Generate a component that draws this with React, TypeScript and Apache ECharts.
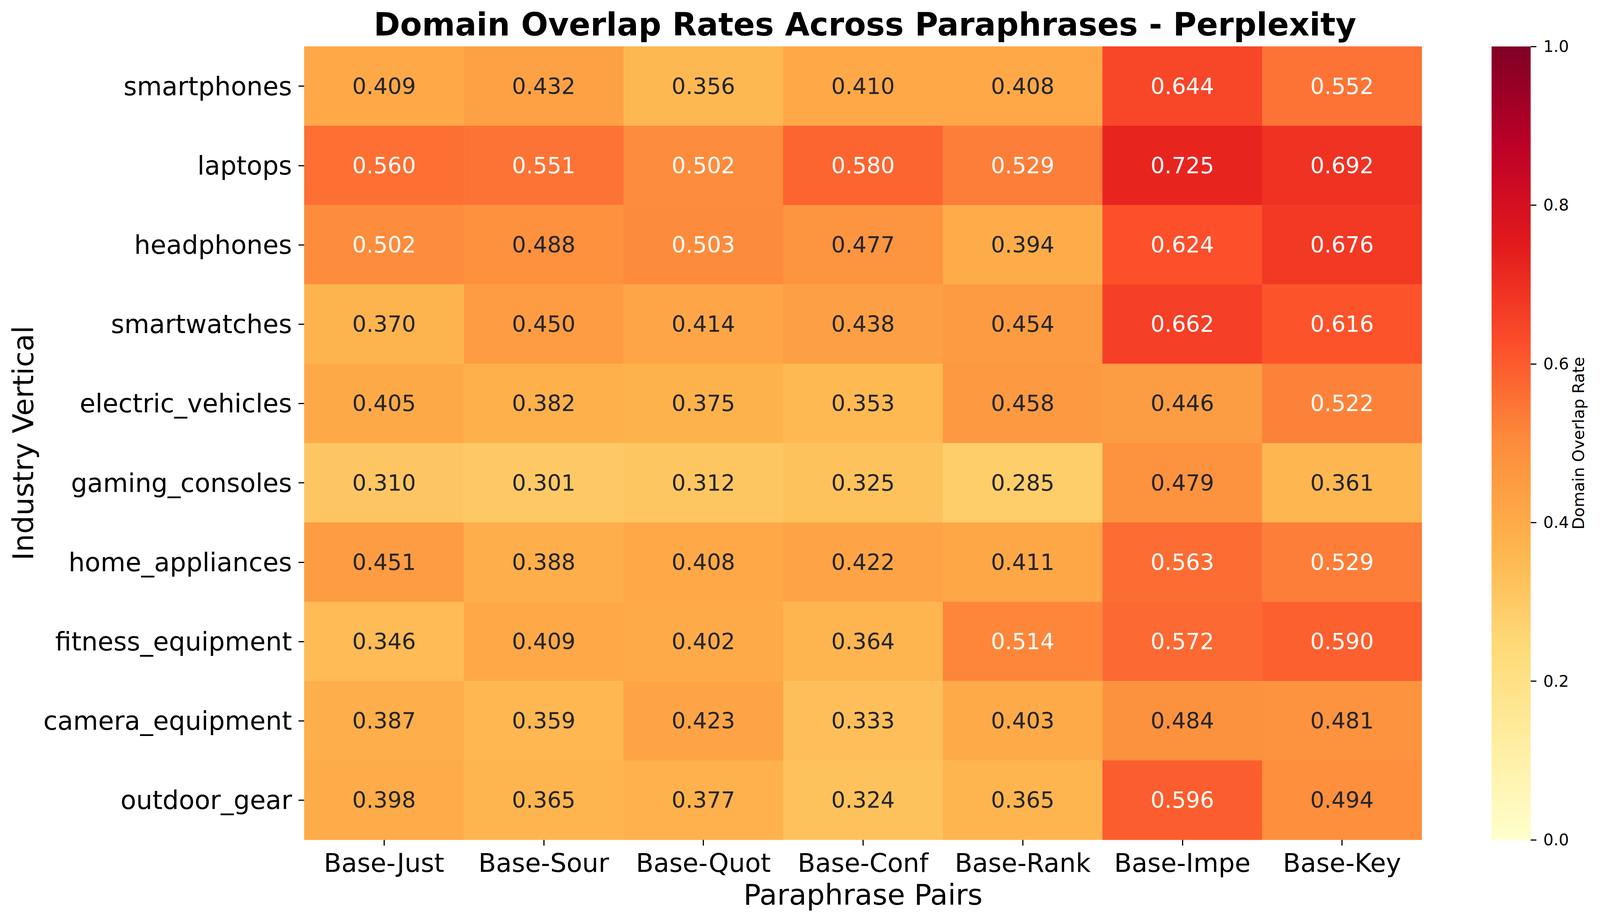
import React, { useEffect, useRef } from "react";
import * as echarts from "echarts";

const TITLE = "Domain Overlap Rates Across Paraphrases - Perplexity";
const X_NAME = "Paraphrase Pairs";
const Y_NAME = "Industry Vertical";
const CBAR_NAME = "Domain Overlap Rate";

const pairs = ["Base-Just", "Base-Sour", "Base-Quot", "Base-Conf", "Base-Rank", "Base-Impe", "Base-Key"];
const verticals = [
  "smartphones",
  "laptops",
  "headphones",
  "smartwatches",
  "electric_vehicles",
  "gaming_consoles",
  "home_appliances",
  "fitness_equipment",
  "camera_equipment",
  "outdoor_gear",
];

const smartphones = [0.409, 0.432, 0.356, 0.41, 0.408, 0.644, 0.552];
const laptops = [0.56, 0.551, 0.502, 0.58, 0.529, 0.725, 0.692];
const headphones = [0.502, 0.488, 0.503, 0.477, 0.394, 0.624, 0.676];
const smartwatches = [0.37, 0.45, 0.414, 0.438, 0.454, 0.662, 0.616];
const electricVehicles = [0.405, 0.382, 0.375, 0.353, 0.458, 0.446, 0.522];
const gamingConsoles = [0.31, 0.301, 0.312, 0.325, 0.285, 0.479, 0.361];
const homeAppliances = [0.451, 0.388, 0.408, 0.422, 0.411, 0.563, 0.529];
const fitnessEquipment = [0.346, 0.409, 0.402, 0.364, 0.514, 0.572, 0.59];
const cameraEquipment = [0.387, 0.359, 0.423, 0.333, 0.403, 0.484, 0.481];
const outdoorGear = [0.398, 0.365, 0.377, 0.324, 0.365, 0.596, 0.494];

const rows = [
  smartphones,
  laptops,
  headphones,
  smartwatches,
  electricVehicles,
  gamingConsoles,
  homeAppliances,
  fitnessEquipment,
  cameraEquipment,
  outdoorGear,
];

const colorbarTicks = [0, 0.2, 0.4, 0.6, 0.8, 1.0];

// YlOrRd (ColorBrewer 9-class)
const YLORRD = ["#ffffcc", "#ffeda0", "#fed976", "#feb24c", "#fd8d3c", "#fc4e2a", "#e31a1c", "#bd0026", "#800026"];

function hexToRgb(h: string) {
  const n = parseInt(h.slice(1), 16);
  return [(n >> 16) & 255, (n >> 8) & 255, n & 255];
}

function cmap(v: number) {
  const t = Math.max(0, Math.min(1, v)) * (YLORRD.length - 1);
  const i = Math.min(Math.floor(t), YLORRD.length - 2);
  const f = t - i;
  const a = hexToRgb(YLORRD[i]);
  const b = hexToRgb(YLORRD[i + 1]);
  return [0, 1, 2].map((k) => a[k] + (b[k] - a[k]) * f);
}

function luminance(rgb: number[]) {
  const lin = rgb.map((c) => {
    const s = c / 255;
    return s <= 0.03928 ? s / 12.92 : Math.pow((s + 0.055) / 1.055, 2.4);
  });
  return 0.2126 * lin[0] + 0.7152 * lin[1] + 0.0722 * lin[2];
}

const FONT = "DejaVu Sans";

export default function App() {
  const ref = useRef<HTMLDivElement>(null);

  useEffect(() => {
    document.body.style.margin = "0";
    document.body.style.overflow = "hidden";
    if (!ref.current) return;
    const W = ref.current.clientWidth || window.innerWidth;
    const H = ref.current.clientHeight || window.innerHeight;
    const kx = W / 4176;
    const ky = H / 2364;
    const k = Math.min(kx, ky);
    const X = (v: number) => v * kx;
    const Y = (v: number) => v * ky;
    const F = (v: number) => v * k;

    const chart = echarts.init(ref.current, undefined, { renderer: "svg", width: W, height: H });

    const data: any[] = [];
    rows.forEach((row, yi) => {
      row.forEach((v, xi) => {
        const lum = luminance(cmap(v));
        data.push({
          value: [xi, yi, v],
          label: { color: lum > 0.408 ? "#262626" : "#ffffff" },
        });
      });
    });

    const gradStops = YLORRD.map((c, i) => ({ offset: i / (YLORRD.length - 1), color: c }));

    const gridMain = { left: X(794), top: Y(119), width: X(2917), height: Y(2032) };
    const gridCb = { left: X(3893), top: Y(119), width: X(102), height: Y(2032) };

    chart.setOption({
      animation: false,
      backgroundColor: "#ffffff",
      title: {
        text: TITLE,
        left: gridMain.left + gridMain.width / 2,
        textAlign: "center",
        top: Y(17),
        textStyle: {
          fontFamily: FONT,
          fontSize: F(83),
          fontWeight: "bold",
          color: "#000000",
          lineHeight: F(83),
        },
      },
      grid: [
        { ...gridMain, containLabel: false },
        { ...gridCb, containLabel: false },
      ],
      xAxis: [
        {
          type: "category",
          gridIndex: 0,
          data: pairs,
          position: "bottom",
          axisLine: { show: false },
          axisTick: {
            show: true,
            alignWithLabel: true,
            interval: 0,
            length: F(15),
            lineStyle: { color: "#000", width: F(3) },
          },
          axisLabel: {
            interval: 0,
            fontFamily: FONT,
            fontSize: F(67),
            color: "#000",
            margin: Y(26),
            lineHeight: F(67),
          },
          splitLine: { show: false },
          name: X_NAME,
          nameLocation: "middle",
          nameGap: Y(104),
          nameTextStyle: {
            fontFamily: FONT,
            fontSize: F(75),
            color: "#000",
            lineHeight: F(75),
            verticalAlign: "top",
          },
        },
        {
          type: "category",
          gridIndex: 1,
          data: ["cb"],
          show: false,
        },
      ],
      yAxis: [
        {
          type: "category",
          gridIndex: 0,
          data: verticals,
          inverse: true,
          axisLine: { show: false },
          axisTick: {
            show: true,
            alignWithLabel: true,
            interval: 0,
            length: F(15),
            lineStyle: { color: "#000", width: F(3) },
          },
          axisLabel: {
            interval: 0,
            fontFamily: FONT,
            fontSize: F(67),
            color: "#000",
            margin: X(32),
          },
          splitLine: { show: false },
          name: Y_NAME,
          nameLocation: "middle",
          nameRotate: 90,
          nameGap: X(696),
          nameTextStyle: { fontFamily: FONT, fontSize: F(75), color: "#000", lineHeight: F(75) },
        },
        {
          type: "value",
          gridIndex: 1,
          min: 0,
          max: 1,
          interval: 0.2,
          position: "right",
          axisLine: { show: false },
          axisTick: { show: true, length: F(15), lineStyle: { color: "#000", width: F(3) } },
          axisLabel: {
            fontFamily: FONT,
            fontSize: F(42),
            color: "#000",
            margin: X(33),
            formatter: (v: number) => (colorbarTicks.some((t) => Math.abs(t - v) < 1e-9) ? v.toFixed(1) : ""),
          },
          splitLine: { show: false },
          name: CBAR_NAME,
          nameLocation: "middle",
          nameRotate: 90,
          nameGap: X(104),
          nameTextStyle: { fontFamily: FONT, fontSize: F(42), color: "#000", lineHeight: F(42) },
        },
      ],
      visualMap: {
        show: false,
        type: "continuous",
        min: 0,
        max: 1,
        seriesIndex: 0,
        dimension: 2,
        inRange: { color: YLORRD },
      },
      series: [
        {
          type: "heatmap",
          xAxisIndex: 0,
          yAxisIndex: 0,
          data,
          itemStyle: { borderWidth: 0 },
          label: {
            show: true,
            fontFamily: FONT,
            fontSize: F(58),
            formatter: (p: any) => Number(p.value[2]).toFixed(3),
          },
          emphasis: { disabled: true },
        },
        {
          type: "bar",
          xAxisIndex: 1,
          yAxisIndex: 1,
          data: [1],
          barWidth: "100%",
          silent: true,
          itemStyle: {
            color: new echarts.graphic.LinearGradient(0, 1, 0, 0, gradStops),
          },
        },
      ],
    });

    return () => chart.dispose();
  }, []);

  return (
    <div
      ref={ref}
      style={{ position: "fixed", left: 0, top: 0, width: "100vw", height: "100vh", background: "#fff" }}
    />
  );
}
